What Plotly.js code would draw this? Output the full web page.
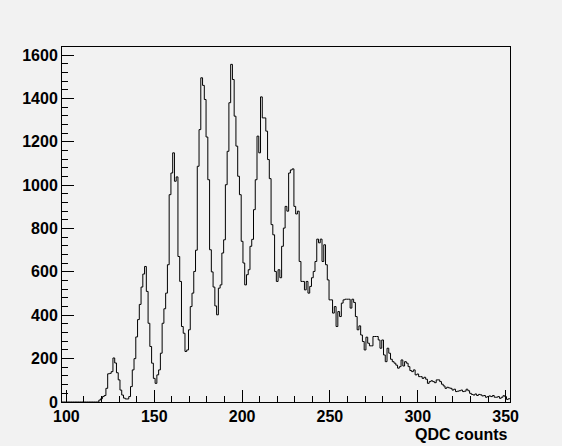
<!DOCTYPE html>
<html>
<head>
<meta charset="utf-8">
<script src="https://cdn.plot.ly/plotly-3.0.1.min.js"></script>
<style>
  html, body { margin: 0; padding: 0; background: #f2f2f2; }
  #chart { width: 562px; height: 446px; }
</style>
</head>
<body>
<div id="chart"></div>
<script>
// Histogram: QDC channel bins (width 1), first bin centred on channel 98
const binStart = 98;
const binWidth = 1;
const counts = [
  0,0,0,0,0,0,0,0,0,0,
  0,0,0,0,0,0,0,0,0,0,
  0,9,15,25,30,63,130,132,140,203,
  180,135,102,55,32,18,14,14,25,71,
  148,200,300,380,450,530,590,625,510,363,
  256,179,109,86,125,148,225,363,430,502,
  633,956,1056,1149,1018,1038,671,556,348,317,
  233,240,333,440,502,602,700,1087,1256,1495,
  1460,1395,1222,1025,702,600,530,443,402,525,
  540,687,748,1002,1156,1380,1557,1487,1318,1180,
  1041,956,741,641,540,587,610,718,750,887,
  1025,1226,1149,1407,1310,1310,1249,1118,1030,818,
  771,602,556,610,573,718,802,902,880,1056,
  1070,1075,902,867,880,648,556,556,517,556,
  502,533,573,602,648,751,734,751,648,725,
  633,563,471,471,410,440,348,417,394,456,
  471,474,474,474,433,474,459,394,333,351,
  309,279,240,299,271,259,259,302,302,302,
  286,248,286,217,186,248,225,197,186,179,
  170,156,163,194,166,186,179,163,145,140,
  148,125,129,117,117,109,114,105,86,94,
  98,94,89,102,102,94,82,74,63,68,
  65,63,55,59,48,50,52,55,48,50,
  59,52,40,35,32,37,30,35,33,28,
  30,22,25,28,25,30,22,22,25,17,
  22,29,25,12,15
];
const xTickValues = [100, 150, 200, 250, 300, 350];
const yTickValues = [0, 200, 400, 600, 800, 1000, 1200, 1400, 1600];
const xTitle = "QDC counts";

// step outline built from bin edges
const edges = [];
const stepY = [];
for (let i = 0; i < counts.length; i++) {
  edges.push(binStart - binWidth / 2 + i * binWidth);
  stepY.push(counts[i]);
}
edges.push(binStart - binWidth / 2 + counts.length * binWidth);
stepY.push(counts[counts.length - 1]);

const xMin = binStart - binWidth / 2;
const xMax = edges[edges.length - 1];

const tickFont = { family: "Liberation Sans, Arial, sans-serif", size: 16, color: "#000", weight: "bold" };

const trace = {
  type: "scatter",
  mode: "lines",
  x: edges,
  y: stepY,
  line: { shape: "hv", color: "#000", width: 1 },
  hoverinfo: "none"
};

const layout = {
  width: 562,
  height: 446,
  margin: { l: 62, r: 52, t: 47, b: 44, pad: 0 },
  paper_bgcolor: "#f2f2f2",
  plot_bgcolor: "#f2f2f2",
  showlegend: false,
  xaxis: {
    range: [xMin, xMax],
    tickmode: "array",
    tickvals: xTickValues,
    ticktext: xTickValues.map(String),
    ticks: "inside",
    ticklen: 12,
    tickwidth: 1,
    tickcolor: "#000",
    minor: { dtick: 10, tick0: 100, ticks: "inside", ticklen: 6, tickcolor: "#000", tickwidth: 1, showgrid: false },
    showline: true,
    linecolor: "#000",
    linewidth: 1,
    mirror: true,
    showgrid: false,
    zeroline: false,
    tickfont: tickFont
  },
  yaxis: {
    range: [0, 1637],
    tickmode: "array",
    tickvals: yTickValues,
    ticktext: yTickValues.map(String),
    ticks: "inside",
    ticklen: 12,
    tickwidth: 1,
    tickcolor: "#000",
    minor: { dtick: 40, tick0: 0, ticks: "inside", ticklen: 6, tickcolor: "#000", tickwidth: 1, showgrid: false },
    showline: true,
    linecolor: "#000",
    linewidth: 1,
    mirror: true,
    showgrid: false,
    zeroline: false,
    tickfont: tickFont
  },
  annotations: [{
    text: xTitle,
    xref: "paper", yref: "paper",
    x: 1, xanchor: "right",
    y: -0.092, yanchor: "middle",
    showarrow: false,
    font: { family: "Liberation Sans, Arial, sans-serif", size: 16, color: "#000", weight: "bold" }
  }]
};

Plotly.newPlot("chart", [trace], layout, { staticPlot: true, displayModeBar: false });
</script>
</body>
</html>
